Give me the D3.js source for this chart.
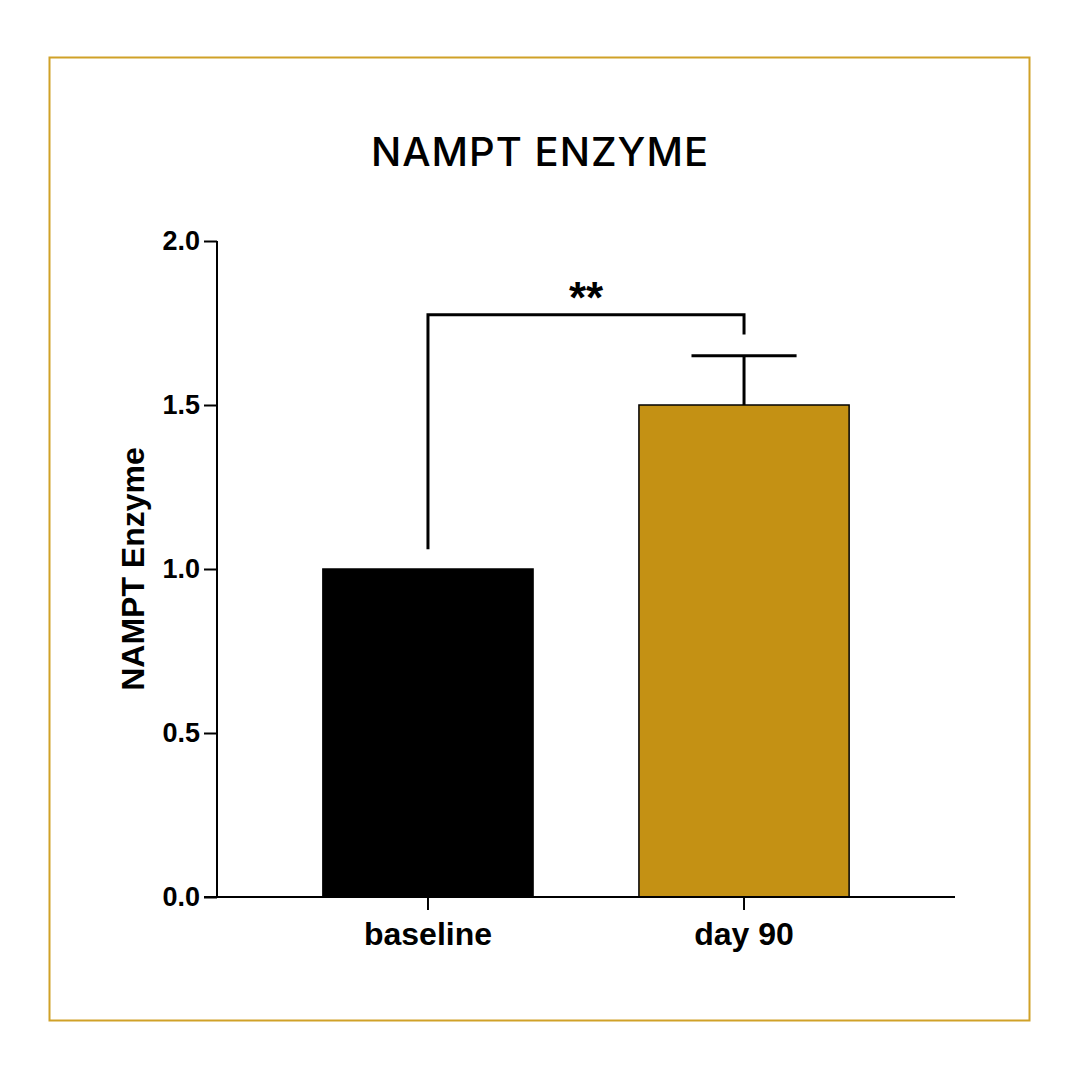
<!DOCTYPE html>
<html lang="en">
<head>
    <meta charset="UTF-8">
    <title>NAMPT Enzyme</title>
    <script src="https://d3js.org/d3.v7.min.js"></script>
    <style>
        body { margin: 0; background: #fff; }
        svg { display: block; }
    </style>
</head>
<body>
    <svg width="1080" height="1080"></svg>

    <script>
        const groups = ["baseline", "day 90"];
        const means = [1.0, 1.5];
        const errors = [0, 0.15];
        const barColors = ["#000000", "#c49114"];
        const yTicks = [0, 0.5, 1.0, 1.5, 2.0];
        // significance bracket: from baseline to day 90
        const bracket = { from: 0, to: 1, level: 1.775, leftEnd: 1.06, rightEnd: 1.715, label: "**" };

        const margin = { top: 241, right: 125, bottom: 183, left: 217 };
        const width = 1080 - margin.left - margin.right;
        const height = 1080 - margin.top - margin.bottom;

        const root = d3.select("svg");

        // outer frame
        root.append("rect")
            .attr("x", 49.5).attr("y", 57.5)
            .attr("width", 980).attr("height", 963)
            .attr("fill", "none")
            .attr("stroke", "#d0a128")
            .attr("stroke-width", 2);

        root.append("text")
            .attr("x", 540).attr("y", 166)
            .attr("text-anchor", "middle")
            .style("font-family", "Inter, 'Open Sans', sans-serif")
            .style("font-weight", 500)
            .style("font-size", "40px")
            .style("letter-spacing", "1px")
            .text("NAMPT ENZYME");

        const svg = root.append("g")
            .attr("transform", `translate(${margin.left},${margin.top})`);

        const x = d3.scaleBand().domain(groups).range([0, width])
            .paddingInner(0.335).paddingOuter(0.335);
        const y = d3.scaleLinear().domain([0, 2]).range([height, 0]);

        const data = groups.map((g, i) => ({ g, v: means[i], e: errors[i], c: barColors[i] }));

        // bars
        svg.selectAll(".bar").data(data).enter().append("rect")
            .attr("class", "bar")
            .attr("x", d => x(d.g))
            .attr("y", d => y(d.v))
            .attr("width", x.bandwidth())
            .attr("height", d => y(0) - y(d.v))
            .attr("fill", d => d.c)
            .attr("stroke", "#000")
            .attr("stroke-width", 1.5);

        // error bars (upper only)
        const eb = svg.selectAll(".err").data(data.filter(d => d.e > 0)).enter().append("g")
            .attr("stroke", "#000").attr("stroke-width", 3);
        eb.append("line")
            .attr("x1", d => x(d.g) + x.bandwidth() / 2)
            .attr("x2", d => x(d.g) + x.bandwidth() / 2)
            .attr("y1", d => y(d.v))
            .attr("y2", d => y(d.v + d.e));
        eb.append("line")
            .attr("x1", d => x(d.g) + x.bandwidth() / 4)
            .attr("x2", d => x(d.g) + x.bandwidth() * 3 / 4)
            .attr("y1", d => y(d.v + d.e))
            .attr("y2", d => y(d.v + d.e));

        // axes
        const yAxis = svg.append("g")
            .call(d3.axisLeft(y).tickValues(yTicks).tickFormat(d3.format(".1f")).tickSize(13).tickPadding(4));
        const xAxis = svg.append("g")
            .attr("transform", `translate(0,${height})`)
            .call(d3.axisBottom(x).tickSize(13).tickPadding(12).tickSizeOuter(0));

        [yAxis, xAxis].forEach(a => {
            a.select(".domain").attr("stroke-width", 2);
            a.selectAll(".tick line").attr("stroke-width", 2);
            a.selectAll("text")
                .attr("fill", "#000")
                .style("font-family", "'Liberation Sans', Arial, sans-serif")
                .style("font-weight", "bold");
        });
        yAxis.selectAll("text").style("font-size", "27px");
        xAxis.selectAll("text").style("font-size", "32px");
        // extend x axis line to the left under the 0 tick
        xAxis.select(".domain").attr("d", `M-13,0H${width}`);
        yAxis.select(".domain").attr("d", `M0,0V${height}`);

        // significance bracket
        const bx1 = x(groups[bracket.from]) + x.bandwidth() / 2;
        const bx2 = x(groups[bracket.to]) + x.bandwidth() / 2;
        svg.append("path")
            .attr("d", `M${bx1},${y(bracket.leftEnd)}V${y(bracket.level)}H${bx2}V${y(bracket.rightEnd)}`)
            .attr("fill", "none")
            .attr("stroke", "#000")
            .attr("stroke-width", 3);
        svg.append("text")
            .attr("x", (bx1 + bx2) / 2)
            .attr("y", y(bracket.level) - 2)
            .attr("text-anchor", "middle")
            .style("font-family", "'Liberation Sans', Arial, sans-serif")
            .style("font-weight", "bold")
            .style("font-size", "44px")
            .text(bracket.label);

        // y axis title
        svg.append("text")
            .attr("transform", `translate(${-73},${y(1)}) rotate(-90)`)
            .attr("text-anchor", "middle")
            .style("font-family", "'Liberation Sans', Arial, sans-serif")
            .style("font-weight", "bold")
            .style("font-size", "32px")
            .text("NAMPT Enzyme");
    </script>
</body>
</html>
